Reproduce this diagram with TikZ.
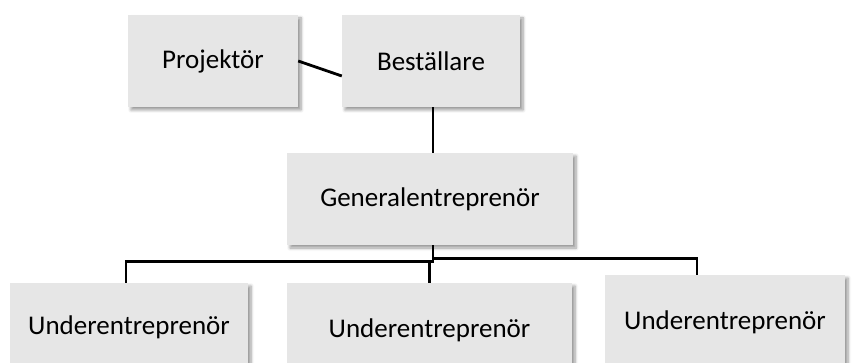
\documentclass[tikz,border=0pt]{standalone}
\usepackage{fontspec}
\setmainfont{Carlito}
\usepackage{tikz}
\usetikzlibrary{shadows.blur, positioning}
\definecolor{boxgray}{RGB}{230,230,230}

\begin{document}
\begin{tikzpicture}[x=1pt, y=-1pt,
    org/.style={rectangle, fill=boxgray, minimum height=92pt, inner sep=0pt, align=center,
        font=\fontsize{27}{32}\selectfont,
        blur shadow={shadow xshift=3pt, shadow yshift=-3pt, shadow blur steps=6, shadow blur radius=3pt}},
    link/.style={line width=2.8pt, black}
]
\useasboundingbox (0,0) rectangle (852,363);
\clip (0,0) rectangle (852,363);

\node[org, minimum width=170pt] (proj) at (213,61) {Projektör};
\node[org, minimum width=178pt] (best) at (431,61) {Beställare};
\node[org, minimum width=286pt] (ge) at (430,199) {Generalentreprenör};

\node[org, minimum width=238pt, minimum height=88pt] (ue1) at (129,327) {Underentreprenör};
\node[org, minimum width=285pt, minimum height=94pt] (ue2) at (429.5,330) {Underentreprenör};
\node[org, minimum width=240pt, minimum height=94pt] (ue3) at (725,322) {Underentreprenör};

\draw[link] (proj.east) -- ([yshift=-15pt]best.west);
\draw[link] ([xshift=2pt]best.south) -- ([xshift=2pt]best.south |- ge.north);

\draw[link] ([xshift=3pt]ge.south) -- ++(0,16) coordinate (fork) -| ([xshift=-3pt]ue1.north);
\draw[link] (fork -| ue2.north) -- (ue2.north);
\draw[link] ([xshift=3pt,yshift=-13pt]ge.south) -| ([xshift=-28pt]ue3.north);
\end{tikzpicture}
\end{document}
